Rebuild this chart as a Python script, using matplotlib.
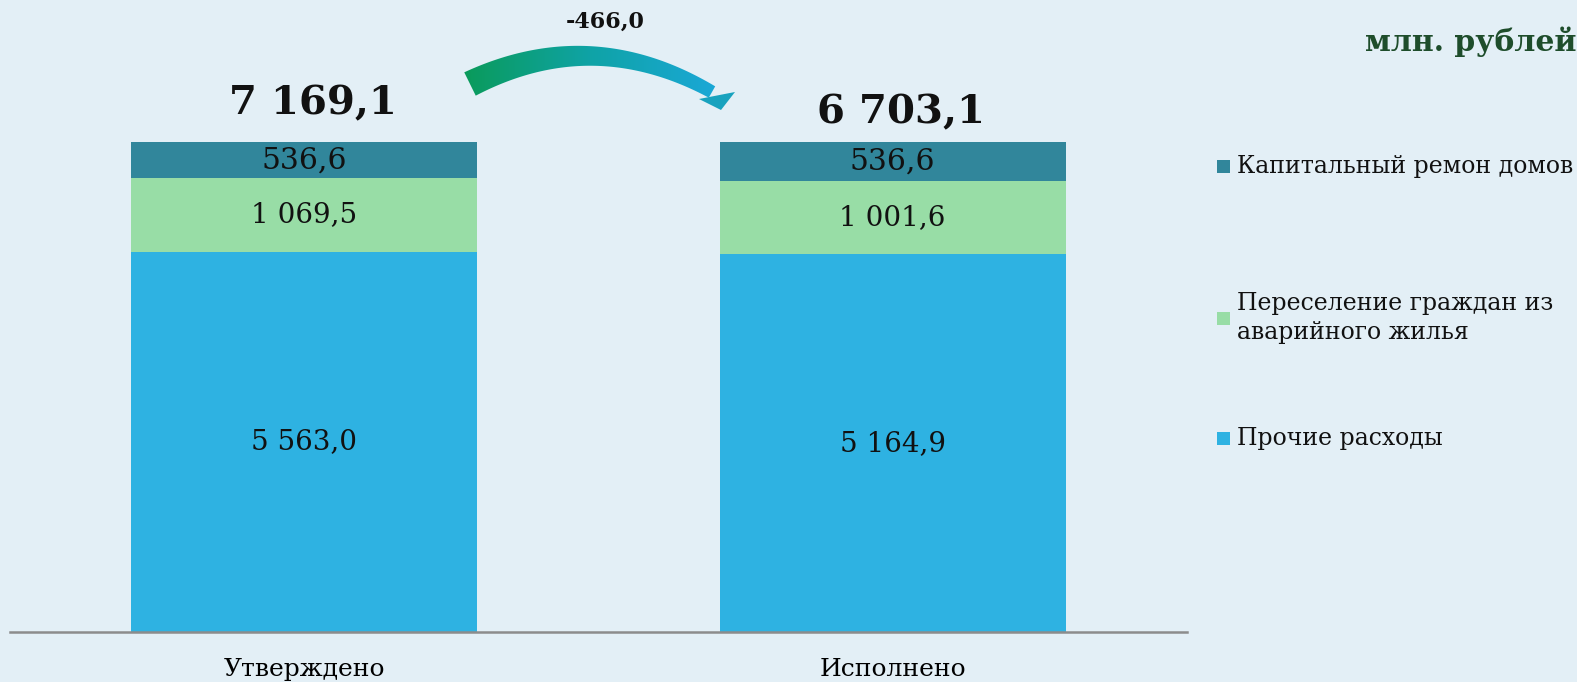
import numpy as np
import matplotlib.pyplot as plt
from matplotlib.patches import Polygon, Rectangle
from matplotlib.colors import LinearSegmentedColormap

plt.rcParams['font.family'] = ['DejaVu Serif']

# data
categories = ['Утверждено', 'Исполнено']
series_names = ['Прочие расходы', 'Переселение граждан из\nаварийного жилья', 'Капитальный ремон домов']
other = [5563.0, 5164.9]
resettle = [1069.5, 1001.6]
repair = [536.6, 536.6]
totals = [7169.1, 6703.1]
diff_label = '-466,0'
unit_label = 'млн. рублей'

colors = ['#2EB2E2', '#98DDA6', '#31869B']
bg = '#E3EFF6'


def fmt(v):
    s = f'{v:,.1f}'
    return s.replace(',', ' ').replace('.', ',')


fig = plt.figure(figsize=(15.77, 6.82), dpi=100)
fig.patch.set_facecolor(bg)

# overlay in pixel coordinates for the arrow and free text
oax = fig.add_axes([0, 0, 1, 1])
oax.axis('off')
oax.patch.set_alpha(0)

# curved gradient arrow
P0, P1, P2 = np.array([470, 84]), np.array([592, 24]), np.array([712, 92])
t = np.linspace(0, 1, 120)[:, None]
pts = (1 - t) ** 2 * P0 + 2 * (1 - t) * t * P1 + t ** 2 * P2
d = 2 * (1 - t) * (P1 - P0) + 2 * t * (P2 - P1)
d = d / np.linalg.norm(d, axis=1)[:, None]
nrm = np.column_stack([d[:, 1], -d[:, 0]])
w = (26 - 13 * t[:, 0])[:, None] / 2
band = np.vstack([pts + nrm * w, (pts - nrm * w)[::-1]])
clip = Polygon(band, closed=True, facecolor='none', edgecolor='none')
oax.add_patch(clip)
grad = np.linspace(0, 1, 256)[None, :]
cmap = LinearSegmentedColormap.from_list('arr', ['#0A9A55', '#0FA3A6', '#1BA8DA'])
im = oax.imshow(grad, cmap=cmap, extent=[455, 725, 110, 30], aspect='auto', zorder=2)
im.set_clip_path(clip)
oax.add_patch(Polygon([[699, 99], [735, 92], [721, 110]], closed=True,
                      facecolor='#18A2BE', edgecolor='none', zorder=3))
oax.set_xlim(0, 1577)
oax.set_ylim(682, 0)

oax.text(605, 22, diff_label, ha='center', va='center', fontsize=16, fontweight='bold', color='#111111')
oax.text(1365, 42, unit_label, ha='left', va='center', fontsize=21.5, fontweight='bold', color='#1E4D2B')

# main chart (100% stacked)
ax = fig.add_axes([0.0064, 0.0733, 0.7462, 0.7188])
ax.patch.set_alpha(0)
x = np.arange(len(categories))
vals = [np.array(other), np.array(resettle), np.array(repair)]
label_sizes = [20, 20, 21.5]
tot = np.array(totals)
bottom = np.zeros(len(categories))
for v, c, fs in zip(vals, colors, label_sizes):
    share = v / tot
    ax.bar(x, share, 0.588, bottom=bottom, color=c, zorder=2)
    for i in range(len(x)):
        ax.text(x[i], bottom[i] + share[i] / 2, fmt(v[i]), ha='center', va='center',
                fontsize=fs, color='#111111', zorder=3)
    bottom += share

for i, tv in enumerate(totals):
    ax.text(x[i] + 0.015, [1.078, 1.06][i], fmt(tv), ha='center', va='center',
            fontsize=29, fontweight='bold', color='#111111')

ax.set_xlim(-0.5, 1.5)
ax.set_ylim(0, 1)
ax.set_yticks([])
ax.set_xticks(x, categories, fontsize=18)
ax.tick_params(axis='x', length=0, pad=19)
for s in ['top', 'left', 'right']:
    ax.spines[s].set_visible(False)
ax.spines['bottom'].set_color('#8C8C8C')
ax.spines['bottom'].set_linewidth(1.8)

# legend
leg_y = [166, 318, 438]
for name, c, y in zip(series_names[::-1], colors[::-1], leg_y):
    oax.add_patch(Rectangle((1217, y - 6.5), 13, 13, facecolor=c, edgecolor='none'))
    oax.text(1237, y, name, ha='left', va='center', fontsize=17, color='#111111',
             linespacing=1.3)

fig.savefig('out.png', dpi=100, facecolor=bg)
